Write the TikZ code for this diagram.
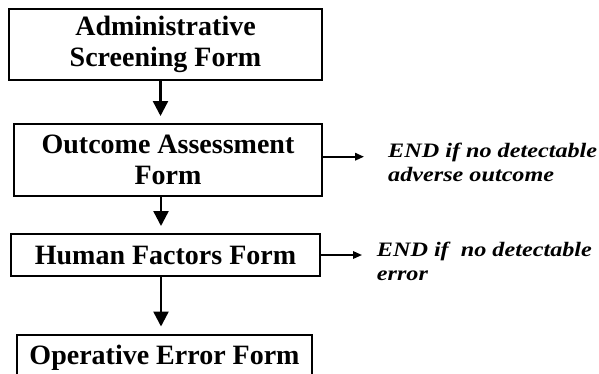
\documentclass[tikz,border=0pt]{standalone}
\usepackage{fontspec}
\setmainfont{Liberation Serif}
\usetikzlibrary{arrows.meta}

\tikzset{
  formbox/.style={draw, line width=2pt, inner sep=0pt, align=center,
    font=\fontsize{28}{31}\selectfont\bfseries},
  endnote/.style={inner sep=0pt, align=left, anchor=base west,
    font=\fontsize{20.5}{23.5}\selectfont\bfseries\itshape\addfontfeatures{FakeStretch=1.18}},
  flow/.style={line width=2.4pt, -{Triangle[length=15pt,width=15pt]}, shorten >=7pt},
  exit/.style={line width=1.8pt, -{Triangle[length=9pt,width=7.5pt]}}
}

\begin{document}
\begin{tikzpicture}[x=1pt,y=1pt]

\useasboundingbox (0,0) rectangle (599,-373);
\clip (0,0) rectangle (599,-373);

\node[formbox, minimum width=313, minimum height=71] (admin) at (165.5,-44.5) {Administrative\\Screening Form};
\node[formbox, minimum width=308, minimum height=72] (outcome) at (168,-160) {Outcome Assessment\\Form};
\node[formbox, minimum width=309, minimum height=42] (human) at (165.5,-255) {Human Factors Form};
\node[formbox, minimum width=295, minimum height=46] (operative) at (164.5,-357.5) {Operative Error Form};

% base anchor sits on the last line
\node[endnote] (noteA) at (388,-181) {END if no detectable\\adverse outcome};
\node[endnote] (noteB) at (376.7,-280.2) {END if~ no detectable\\error};

\draw[flow] ([xshift=-5pt]admin.south) -- ([xshift=-5pt]admin.south |- outcome.north);
\draw[flow] ([xshift=-7pt]outcome.south) -- ([xshift=-7pt]outcome.south |- human.north);
\draw[flow] ([xshift=-4.5pt]human.south) -- ([xshift=-4.5pt]human.south |- operative.north);

\draw[exit] ([yshift=3.3pt]outcome.east) -- ++(41,0) coordinate (endA);
\draw[exit] (human.east) -- ++(41,0) coordinate (endB);

\end{tikzpicture}
\end{document}
